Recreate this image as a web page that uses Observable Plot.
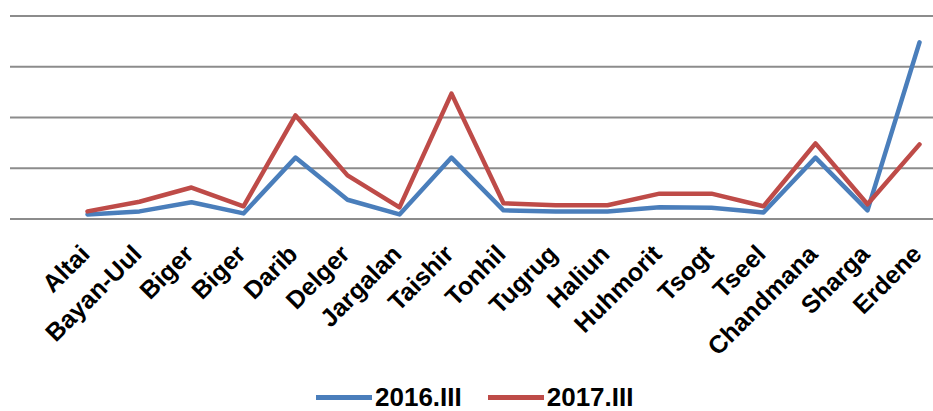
<!DOCTYPE html>
<html>
<head>
<meta charset="utf-8">
<script src="https://cdn.jsdelivr.net/npm/d3@7"></script>
<script src="https://cdn.jsdelivr.net/npm/@observablehq/plot@0.6"></script>
<style>
  html, body { margin: 0; padding: 0; background: #fff; }
  #chart { width: 933px; height: 411px; position: relative; overflow: hidden; }
  .legend { box-sizing: border-box; display: flex; align-items: center; height: 31px; padding-top: 4px; padding-left: 316px;
            font-family: "Liberation Sans", Arial, sans-serif; font-weight: bold; font-size: 26px; line-height: 27px; color: #000; }
  .legend .item { display: flex; align-items: center; margin-right: 26px; }
  .legend .sw { width: 56px; height: 5px; margin-right: 3px; }
</style>
</head>
<body>
<div id="chart"></div>
<script>
const categories = ["Altai","Bayan-Uul","Biger","Biger","Darib","Delger","Jargalan","Taishir","Tonhil","Tugrug","Haliun","Huhmorit","Tsogt","Tseel","Chandmana","Sharga","Erdene"];
const series = ["2016.III","2017.III"];
const values2016 = [0.9,1.5,3.3,1.1,12.1,3.8,0.9,12.1,1.7,1.5,1.5,2.3,2.2,1.3,12.1,1.7,34.8];
const values2017 = [1.5,3.4,6.2,2.5,20.4,8.6,2.3,24.7,3.1,2.7,2.7,5.0,5.0,2.5,14.9,2.9,14.7];
const yTicks = [0,10,20,30,40];
const colors = ["#4A7EBB","#BE4B48"];

const rows = [];
categories.forEach((c, i) => rows.push({i, v: values2016[i], s: series[0]}));
categories.forEach((c, i) => rows.push({i, v: values2017[i], s: series[1]}));
const idx = categories.map((c, i) => i);

const plot = Plot.plot({
  width: 933,
  height: 380,
  marginLeft: 10,
  marginRight: 0,
  marginTop: 15.5,
  marginBottom: 161.5,
  x: {type: "point", domain: idx, range: [86, 920], padding: 0, axis: null},
  y: {domain: [0, 40], axis: null},
  color: {domain: series, range: colors},
  marks: [
    Plot.ruleY(yTicks, {stroke: "#8c8c8c", strokeWidth: 2}),
    Plot.line(rows, {x: "i", y: "v", z: "s", stroke: "s", strokeWidth: 4.5, strokeLinejoin: "round", strokeLinecap: "round"}),
    Plot.text(idx, {x: d => d, text: d => categories[d], frameAnchor: "bottom", rotate: -45,
      textAnchor: "end", lineAnchor: "middle", dy: 31, dx: -2,
      fontSize: 25, fontWeight: "bold", fontFamily: "Liberation Sans, Arial, sans-serif", fill: "#000"})
  ]
});
const chart = document.getElementById("chart");
chart.appendChild(plot);
plot.style.display = "block";

const legend = document.createElement("div");
legend.className = "legend";
series.forEach((s, k) => {
  const it = document.createElement("div");
  it.className = "item";
  const sw = document.createElement("div");
  sw.className = "sw";
  sw.style.background = colors[k];
  const t = document.createElement("span");
  t.textContent = s;
  it.appendChild(sw); it.appendChild(t);
  legend.appendChild(it);
});
chart.appendChild(legend);
</script>
</body>
</html>
